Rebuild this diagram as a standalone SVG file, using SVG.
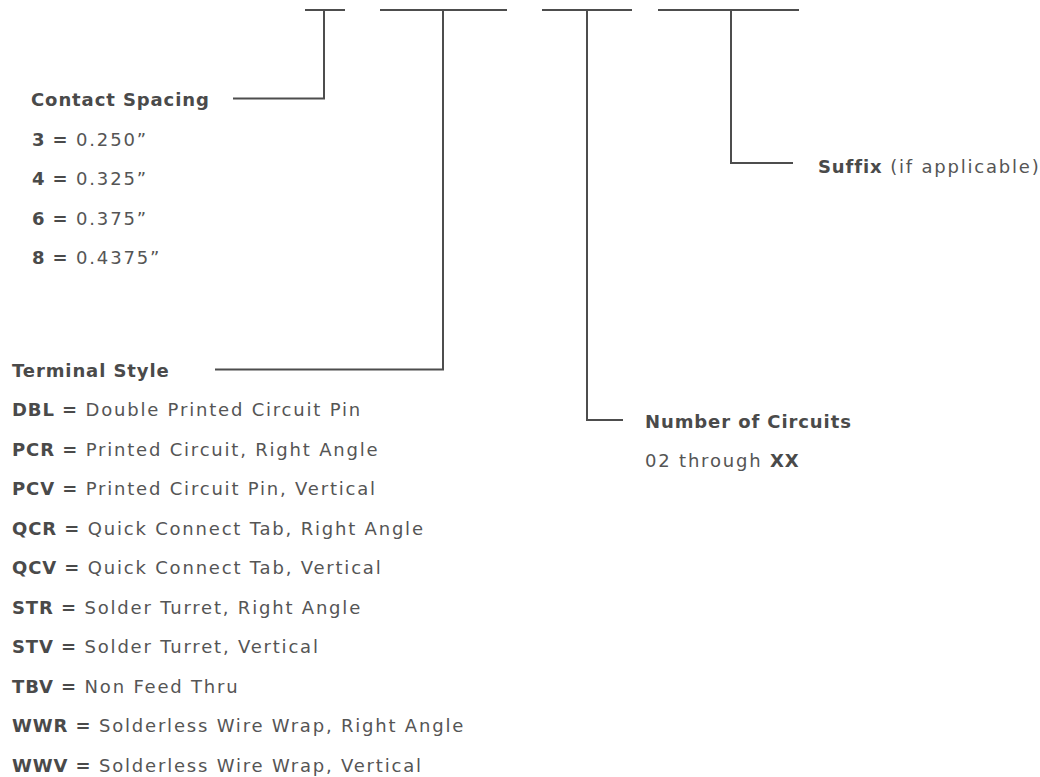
<svg xmlns="http://www.w3.org/2000/svg" width="1040" height="777" viewBox="0 0 1040 777">
<style>
.t{font-family:"DejaVu Sans","Liberation Sans",sans-serif;font-size:18px;fill:#555;letter-spacing:1.8px}
.b{font-weight:bold;fill:#4a4a4a;letter-spacing:0.9px}
.c{fill:none;stroke:#4d4d4d;stroke-width:2;stroke-linecap:butt;stroke-linejoin:miter}
</style>
<rect width="1040" height="777" fill="#fff"/>
<g id="connectors">
<path class="c" d="M305 10H345M324 10V98.5H233"/>
<path class="c" d="M380 10H507M443 10V369.5H215"/>
<path class="c" d="M542 10H632M587 10V420H623"/>
<path class="c" d="M658 10H799M731 10V163H793"/>
</g>
<g id="contact-spacing">
<text class="t b" x="31" y="106">Contact Spacing</text>
<text class="t" x="32" y="145.5"><tspan class="b">3 =</tspan> 0.250”</text>
<text class="t" x="32" y="185"><tspan class="b">4 =</tspan> 0.325”</text>
<text class="t" x="32" y="224.5"><tspan class="b">6 =</tspan> 0.375”</text>
<text class="t" x="32" y="264"><tspan class="b">8 =</tspan> 0.4375”</text>
</g>
<g id="terminal-style">
<text class="t b" x="12" y="377">Terminal Style</text>
<text class="t" x="12" y="416"><tspan class="b">DBL =</tspan> Double Printed Circuit Pin</text>
<text class="t" x="12" y="455.5"><tspan class="b">PCR =</tspan> Printed Circuit, Right Angle</text>
<text class="t" x="12" y="495"><tspan class="b">PCV =</tspan> Printed Circuit Pin, Vertical</text>
<text class="t" x="12" y="534.5"><tspan class="b">QCR =</tspan> Quick Connect Tab, Right Angle</text>
<text class="t" x="12" y="574"><tspan class="b">QCV =</tspan> Quick Connect Tab, Vertical</text>
<text class="t" x="12" y="613.5"><tspan class="b">STR =</tspan> Solder Turret, Right Angle</text>
<text class="t" x="12" y="653"><tspan class="b">STV =</tspan> Solder Turret, Vertical</text>
<text class="t" x="12" y="692.5"><tspan class="b">TBV =</tspan> Non Feed Thru</text>
<text class="t" x="12" y="732"><tspan class="b">WWR =</tspan> Solderless Wire Wrap, Right Angle</text>
<text class="t" x="12" y="771.5"><tspan class="b">WWV =</tspan> Solderless Wire Wrap, Vertical</text>
</g>
<g id="number-of-circuits">
<text class="t b" x="645" y="428">Number of Circuits</text>
<text class="t" x="645" y="467">02 through <tspan class="b">XX</tspan></text>
</g>
<g id="suffix">
<text class="t" x="818" y="173"><tspan class="b">Suffix</tspan> (if applicable)</text>
</g>
</svg>
